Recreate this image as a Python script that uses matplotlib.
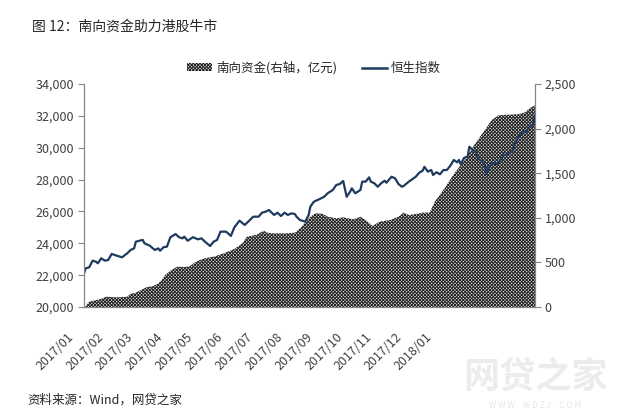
import numpy as np
import matplotlib
matplotlib.use('Agg')
import matplotlib.pyplot as plt
import matplotlib.transforms as mtrans
from matplotlib.patches import Patch
from matplotlib.lines import Line2D
from matplotlib.ticker import FuncFormatter

plt.rcParams['font.family'] = ['Noto Sans CJK SC', 'DejaVu Sans']
plt.rcParams['hatch.linewidth'] = 0.7

title = "图 12：南向资金助力港股牛市"
source = "资料来源：Wind，网贷之家"
legend_flow = "南向资金(右轴，亿元)"
legend_hsi = "恒生指数"
month_labels = ["2017/01", "2017/02", "2017/03", "2017/04", "2017/05", "2017/06",
                "2017/07", "2017/08", "2017/09", "2017/10", "2017/11", "2017/12", "2018/01"]

# Hang Seng index (trading-day index, value)
hsi_day = [0, 1, 3, 5, 7, 8, 10, 12, 14, 16, 19, 22, 25, 27, 29, 30, 32, 34, 35, 38,
           41, 43, 44, 46, 48, 50, 53, 55, 57, 58, 60, 63, 66, 68, 70, 73, 75, 77, 79, 82,
           83, 85, 87, 90, 93, 96, 98, 101, 103, 105, 107, 109, 110, 112, 114, 116, 118, 120, 122, 123,
           125, 128, 130, 131, 133, 136, 139, 141, 144, 146, 148, 150, 152, 154, 155, 157, 160, 161, 163, 165,
           166, 168, 170, 172, 174, 175, 178, 180, 182, 184, 185, 188, 192, 194, 196, 197, 199, 201, 202, 204,
           206, 208, 210, 212, 214, 216, 217, 218, 220, 222, 223, 225, 227, 228, 230, 232, 233, 234, 236, 238,
           239, 241, 243, 245, 248, 249, 251, 253, 256, 258, 260, 261]
hsi_val = [22100, 22430, 22490, 22910, 22840, 22740, 23060, 22910, 22950, 23330, 23220, 23120, 23370, 23580, 23680, 24100, 24160, 24210, 24000, 23850,
           23580, 23680, 23530, 23750, 23790, 24380, 24580, 24380, 24310, 24420, 24160, 24380, 24250, 24310, 24100, 23830, 24100, 24210, 24730, 24730,
           24660, 24460, 25000, 25420, 25150, 25460, 25670, 25670, 25920, 25980, 26090, 25880, 25780, 25920, 25710, 25920, 25780, 25880, 25840, 25670,
           25460, 25360, 25780, 26300, 26610, 26760, 26920, 27140, 27350, 27660, 27720, 27910, 26920, 27240, 27450, 27140, 27350, 27870, 27870, 28140,
           27870, 27770, 27550, 27770, 27930, 27800, 28180, 28080, 27720, 27550, 27600, 27870, 28180, 28430, 28560, 28800, 28500, 28600, 28290, 28460,
           28330, 28600, 28600, 28870, 29230, 29080, 29230, 28960, 29370, 29440, 30060, 29860, 29710, 29330, 29170, 28920, 28350, 28710, 28960, 29080,
           28960, 29230, 29540, 29590, 29790, 30170, 30590, 30900, 31050, 31320, 31470, 32050]

# Southbound cumulative funds, 100 million CNY (trading-day index, value)
flow_day = [0, 1, 3, 9, 13, 19, 25, 27, 30, 33, 36, 40, 43, 45, 47, 50, 54, 58, 61, 64,
            67, 70, 75, 81, 87, 92, 94, 100, 104, 106, 110, 116, 122, 126, 128, 131, 134, 138, 141, 146,
            150, 156, 160, 163, 167, 171, 177, 182, 185, 188, 192, 196, 200, 203, 209, 214, 220, 226, 232, 236,
            240, 245, 251, 255, 258, 261]
flow_val = [0, 10, 60, 86, 115, 108, 115, 150, 160, 190, 220, 235, 265, 303, 359, 407, 452, 448, 455, 497,
            527, 546, 564, 602, 650, 720, 785, 812, 855, 833, 826, 826, 833, 900, 956, 1012, 1050, 1045, 1012, 994,
            1005, 983, 1012, 975, 908, 956, 975, 1012, 1058, 1031, 1042, 1058, 1058, 1180, 1340, 1490, 1640, 1820, 1984, 2096,
            2150, 2155, 2160, 2180, 2230, 2260]

W, H = 631, 420
fig = plt.figure(figsize=(W / 100, H / 100), dpi=100)
ax = fig.add_axes([84 / W, 1 - 307 / H, (535 - 84) / W, (307 - 84) / H])
ax2 = ax.twinx()

hatch_color = '#1e1e1e'
hatch_pat = 'x' * 10
area_face = '#e6e6e6'
ax2.fill_between(flow_day, flow_val, 0, facecolor=area_face, edgecolor=hatch_color,
                 hatch=hatch_pat, linewidth=0)
ax.plot(hsi_day, hsi_val, color='#1f3a5f', linewidth=1.6, solid_joinstyle='round')

ax.set_zorder(ax2.get_zorder() + 1)
ax.patch.set_visible(False)

ax.set_xlim(0, 261)
ax.set_ylim(20000, 34000)
ax2.set_ylim(0, 2500)
ax.set_yticks(np.arange(20000, 34001, 2000))
ax2.set_yticks(np.arange(0, 2501, 500))
fmt = FuncFormatter(lambda v, p: f"{int(v):,}")
ax.yaxis.set_major_formatter(fmt)
ax2.yaxis.set_major_formatter(fmt)

spine_c = '#868686'
text_c = '#404040'
for a in (ax, ax2):
    a.spines['top'].set_visible(False)
    for s in a.spines.values():
        s.set_color(spine_c)
        s.set_linewidth(0.9)
ax2.spines['left'].set_visible(False)
ax.spines['right'].set_visible(False)
ax2.spines['bottom'].set_visible(False)

ax.tick_params(axis='y', direction='out', length=4, width=0.8, color=spine_c,
               labelsize=9, labelcolor=text_c, pad=3)
ax2.tick_params(axis='y', direction='out', length=4, width=0.8, color=spine_c,
                labelsize=9, labelcolor=text_c, pad=3)

step = 261 / 15.1
ax.set_xticks(np.arange(len(month_labels)) * step)
ax.set_xticklabels(month_labels, rotation=45, ha='right', va='top')
ax.tick_params(axis='x', length=0, labelsize=9, labelcolor=text_c, pad=17)
off = mtrans.ScaledTranslation(-8 / 100, 0, fig.dpi_scale_trans)
for lab in ax.get_xticklabels():
    lab.set_transform(lab.get_transform() + off)

fig.text(32 / W, 1 - 27 / H, title, fontsize=10, color='#262626', va='center', ha='left')
fig.text(27 / W, 1 - 400 / H, source, fontsize=9, color='#262626', va='center', ha='left')

# watermark
fig.text(535 / W, 1 - 377 / H, "网贷之家", fontsize=26, color='#ececec', va='center',
         ha='center', fontweight='bold', zorder=0)
fig.text(535 / W, 1 - 405 / H, "W W W .  W D Z J .  C O M", fontsize=6, color='#e6e6e6',
         va='center', ha='center', zorder=0)

handles = [Patch(facecolor=area_face, edgecolor=hatch_color, hatch=hatch_pat, linewidth=0),
           Line2D([0], [0], color='#1f3a5f', linewidth=1.8)]
fig.legend(handles, [legend_flow, legend_hsi], loc='center', bbox_to_anchor=(314 / W, 1 - 68 / H),
           ncol=2, frameon=False, fontsize=9, handlelength=2.0, handleheight=0.6,
           columnspacing=2.0, handletextpad=0.3, labelcolor='#262626')

fig.savefig('out.png', dpi=100)
